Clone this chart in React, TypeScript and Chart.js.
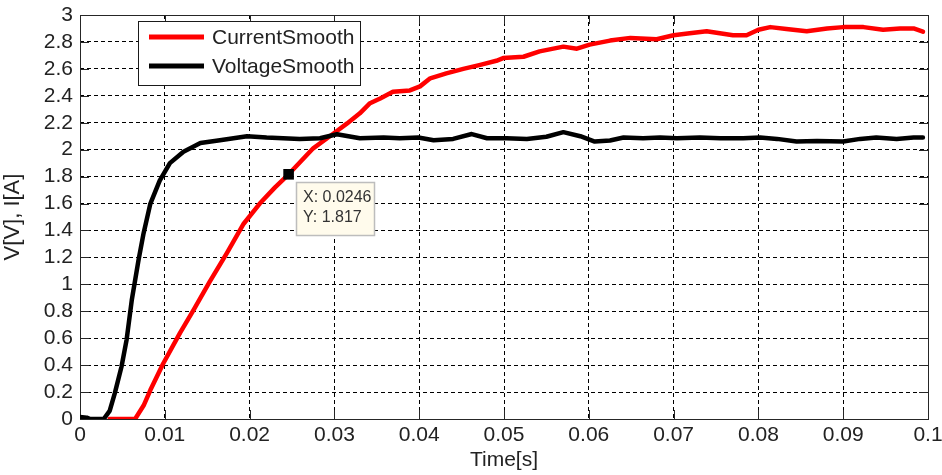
import React, { useEffect, useRef } from "react";
import { Chart, registerables } from "chart.js";

Chart.register(...registerables);

// ---- data ----
const timeCurrent = [
  0.0035, 0.0065, 0.0075, 0.0083, 0.0098, 0.0118, 0.0134, 0.0153, 0.0173, 0.0193,
  0.0212, 0.023, 0.0246, 0.0275, 0.0299, 0.0315, 0.033, 0.0342, 0.0354, 0.0369,
  0.0389, 0.0401, 0.0413, 0.0432, 0.0452, 0.0472, 0.0491, 0.0499, 0.0523, 0.0542,
  0.057, 0.0586, 0.0601, 0.0625, 0.0649, 0.068, 0.07, 0.0719, 0.0739, 0.077,
  0.0786, 0.08, 0.0814, 0.0833, 0.0857, 0.0881, 0.09, 0.0924, 0.0947, 0.0967,
  0.0983, 0.0994,
];
const current = [
  0, 0, 0.1, 0.215, 0.41, 0.64, 0.81, 1.02, 1.23, 1.45,
  1.6, 1.72, 1.817, 2.01, 2.12, 2.195, 2.27, 2.345, 2.38, 2.43,
  2.44, 2.47, 2.53, 2.567, 2.6, 2.63, 2.66, 2.68, 2.69, 2.73,
  2.765, 2.75, 2.78, 2.81, 2.83, 2.82, 2.85, 2.865, 2.88, 2.85,
  2.85, 2.89, 2.91, 2.896, 2.88, 2.9, 2.91, 2.91, 2.89, 2.9,
  2.9, 2.876,
];
const timeVoltage = [
  0, 0.0008, 0.0012, 0.0028, 0.0035, 0.0041, 0.0049, 0.0055, 0.0061, 0.0069,
  0.0075, 0.0083, 0.0094, 0.0106, 0.0122, 0.0142, 0.0165, 0.0197, 0.022, 0.0259,
  0.0283, 0.0303, 0.033, 0.0358, 0.0377, 0.0399, 0.0417, 0.044, 0.0462, 0.048,
  0.0503, 0.0527, 0.055, 0.057, 0.059, 0.0607, 0.0625, 0.0641, 0.0664, 0.0684,
  0.0704, 0.0731, 0.0755, 0.0782, 0.0802, 0.0822, 0.0845, 0.0869, 0.09, 0.092,
  0.0939, 0.0963, 0.0983, 0.0994,
];
const voltage = [
  0.015, 0.01, 0, 0, 0.06, 0.19, 0.39, 0.59, 0.88, 1.18,
  1.38, 1.6, 1.77, 1.9, 1.985, 2.05, 2.07, 2.1, 2.09, 2.08,
  2.085, 2.114, 2.085, 2.09, 2.085, 2.09, 2.07, 2.08, 2.116, 2.085,
  2.085, 2.08, 2.096, 2.13, 2.1, 2.06, 2.068, 2.09, 2.085, 2.09,
  2.085, 2.09, 2.085, 2.085, 2.09, 2.08, 2.06, 2.065, 2.06, 2.08,
  2.09, 2.08, 2.09, 2.09,
];
const xTicks = [0, 0.01, 0.02, 0.03, 0.04, 0.05, 0.06, 0.07, 0.08, 0.09, 0.1];
const yTicks = [0, 0.2, 0.4, 0.6, 0.8, 1, 1.2, 1.4, 1.6, 1.8, 2, 2.2, 2.4, 2.6, 2.8, 3];
const seriesNames = ["CurrentSmooth", "VoltageSmooth"];
const seriesColors = ["#ff0000", "#000000"];
const tipX = 0.0246;
const tipY = 1.817;
const xTitle = "Time[s]";
const yTitle = "V[V], I[A]";

const FONT = '"Liberation Sans", Arial, sans-serif';
const TEXT = "#222222";

const framePlugin = {
  id: "frame",
  beforeDatasetsDraw(chart: any) {
    const { ctx, chartArea } = chart;
    const { left, right, top, bottom } = chartArea;
    const xs = chart.scales.x;
    const ys = chart.scales.y;
    const tl = 9;
    ctx.save();
    ctx.strokeStyle = "#262626";
    ctx.lineWidth = 1;
    ctx.setLineDash([]);
    ctx.beginPath();
    xTicks.forEach((v) => {
      const px = Math.round(xs.getPixelForValue(v)) + 0.5;
      ctx.moveTo(px, bottom);
      ctx.lineTo(px, bottom - tl);
      ctx.moveTo(px, top);
      ctx.lineTo(px, top + tl);
    });
    yTicks.forEach((v) => {
      const py = Math.round(ys.getPixelForValue(v)) + 0.5;
      ctx.moveTo(left, py);
      ctx.lineTo(left + tl, py);
      ctx.moveTo(right, py);
      ctx.lineTo(right - tl, py);
    });
    ctx.stroke();
    ctx.strokeRect(
      Math.round(left) + 0.5,
      Math.round(top) + 0.5,
      Math.round(right) - Math.round(left),
      Math.round(bottom) - Math.round(top)
    );
    ctx.restore();
  },
  afterDatasetsDraw(chart: any) {
    const { ctx } = chart;
    const xs = chart.scales.x;
    const ys = chart.scales.y;
    ctx.save();
    // legend box
    const bx = 138, by = 21, bw = 222, bh = 64;
    ctx.fillStyle = "#ffffff";
    ctx.fillRect(bx, by, bw, bh);
    ctx.strokeStyle = "#1a1a1a";
    ctx.lineWidth = 1;
    ctx.strokeRect(bx + 0.5, by + 0.5, bw, bh);
    ctx.font = `21px ${FONT}`;
    ctx.textBaseline = "middle";
    ctx.textAlign = "left";
    seriesNames.forEach((name, i) => {
      const ly = by + 16 + i * 29;
      ctx.strokeStyle = seriesColors[i];
      ctx.lineWidth = 5;
      ctx.beginPath();
      ctx.moveTo(bx + 11, ly);
      ctx.lineTo(bx + 66, ly);
      ctx.stroke();
      ctx.fillStyle = TEXT;
      ctx.fillText(name, bx + 74, ly + 1);
    });
    // data tip
    const mx = xs.getPixelForValue(tipX);
    const my = ys.getPixelForValue(tipY);
    const tx = Math.round(mx + 7), ty = Math.round(my + 8), tw = 78, th = 53;
    ctx.fillStyle = "rgb(255,251,236)";
    ctx.fillRect(tx, ty, tw, th);
    ctx.strokeStyle = "#bdbdbd";
    ctx.lineWidth = 1.5;
    ctx.strokeRect(tx + 0.5, ty + 0.5, tw, th);
    ctx.fillStyle = "#333333";
    ctx.font = `16px ${FONT}`;
    ctx.textBaseline = "middle";
    ctx.fillText(`X: ${tipX}`, tx + 7, ty + 16);
    ctx.fillText(`Y: ${tipY}`, tx + 7, ty + 36);
    ctx.restore();
  },
};

export default function App() {
  const canvasRef = useRef<HTMLCanvasElement | null>(null);

  useEffect(() => {
    if (!canvasRef.current) return;
    const chart = new Chart(canvasRef.current, {
      type: "line",
      data: {
        datasets: [
          {
            label: seriesNames[0],
            data: timeCurrent.map((t, i) => ({ x: t, y: current[i] })),
            borderColor: seriesColors[0],
            backgroundColor: seriesColors[0],
            borderWidth: 4.5,
            pointRadius: 0,
            tension: 0,
            borderJoinStyle: "round",
            borderCapStyle: "round",
            order: 2,
          },
          {
            label: seriesNames[1],
            data: timeVoltage.map((t, i) => ({ x: t, y: voltage[i] })),
            borderColor: seriesColors[1],
            backgroundColor: seriesColors[1],
            borderWidth: 4.5,
            pointRadius: 0,
            tension: 0,
            borderJoinStyle: "round",
            borderCapStyle: "round",
            order: 1,
          },
          {
            label: "tip",
            data: [{ x: tipX, y: tipY }],
            showLine: false,
            pointStyle: "rect",
            pointRadius: 7.5,
            pointBorderWidth: 0,
            pointBackgroundColor: "#000000",
            pointBorderColor: "#000000",
            order: 0,
          },
        ],
      },
      plugins: [framePlugin],
      options: {
        animation: false,
        responsive: true,
        maintainAspectRatio: false,
        devicePixelRatio: 1,
        events: [],
        layout: { padding: { left: 0, right: 14, top: 15, bottom: 0 } },
        plugins: {
          legend: { display: false },
          tooltip: { enabled: false },
          title: { display: false },
        },
        scales: {
          x: {
            type: "linear",
            min: 0,
            max: 0.1,
            afterBuildTicks: (scale: any) => {
              scale.ticks = xTicks.map((v) => ({ value: v }));
            },
            afterFit: (scale: any) => {
              scale.height = 56;
              scale.paddingLeft = 0;
              scale.paddingRight = 0;
            },
            ticks: {
              autoSkip: false,
              maxRotation: 0,
              minRotation: 0,
              padding: 4,
              color: TEXT,
              font: { family: FONT, size: 21 },
              callback: (v: any) => String(Number(Number(v).toFixed(2))),
            },
            grid: { color: "#000000", lineWidth: 1, drawTicks: false },
            border: { display: false, dash: [4, 3] },
            title: {
              display: true,
              text: xTitle,
              color: TEXT,
              font: { family: FONT, size: 21 },
              padding: { top: 0, bottom: 2 },
            },
          },
          y: {
            type: "linear",
            min: 0,
            max: 3,
            afterBuildTicks: (scale: any) => {
              scale.ticks = yTicks.map((v) => ({ value: v }));
            },
            afterFit: (scale: any) => {
              scale.width = 80;
              scale.paddingTop = 0;
              scale.paddingBottom = 0;
            },
            ticks: {
              autoSkip: false,
              padding: 7,
              color: TEXT,
              font: { family: FONT, size: 21 },
              callback: (v: any) => String(Number(Number(v).toFixed(1))),
            },
            grid: { color: "#000000", lineWidth: 1, drawTicks: false },
            border: { display: false, dash: [4, 3] },
            title: {
              display: true,
              text: yTitle,
              color: TEXT,
              font: { family: FONT, size: 22 },
              padding: { top: 0, bottom: 0 },
            },
          },
        },
      },
    } as any);
    return () => chart.destroy();
  }, []);

  return (
    <div style={{ position: "fixed", left: 0, top: 0, width: 942, height: 475, background: "#ffffff" }}>
      <canvas ref={canvasRef} width={942} height={475} />
    </div>
  );
}
